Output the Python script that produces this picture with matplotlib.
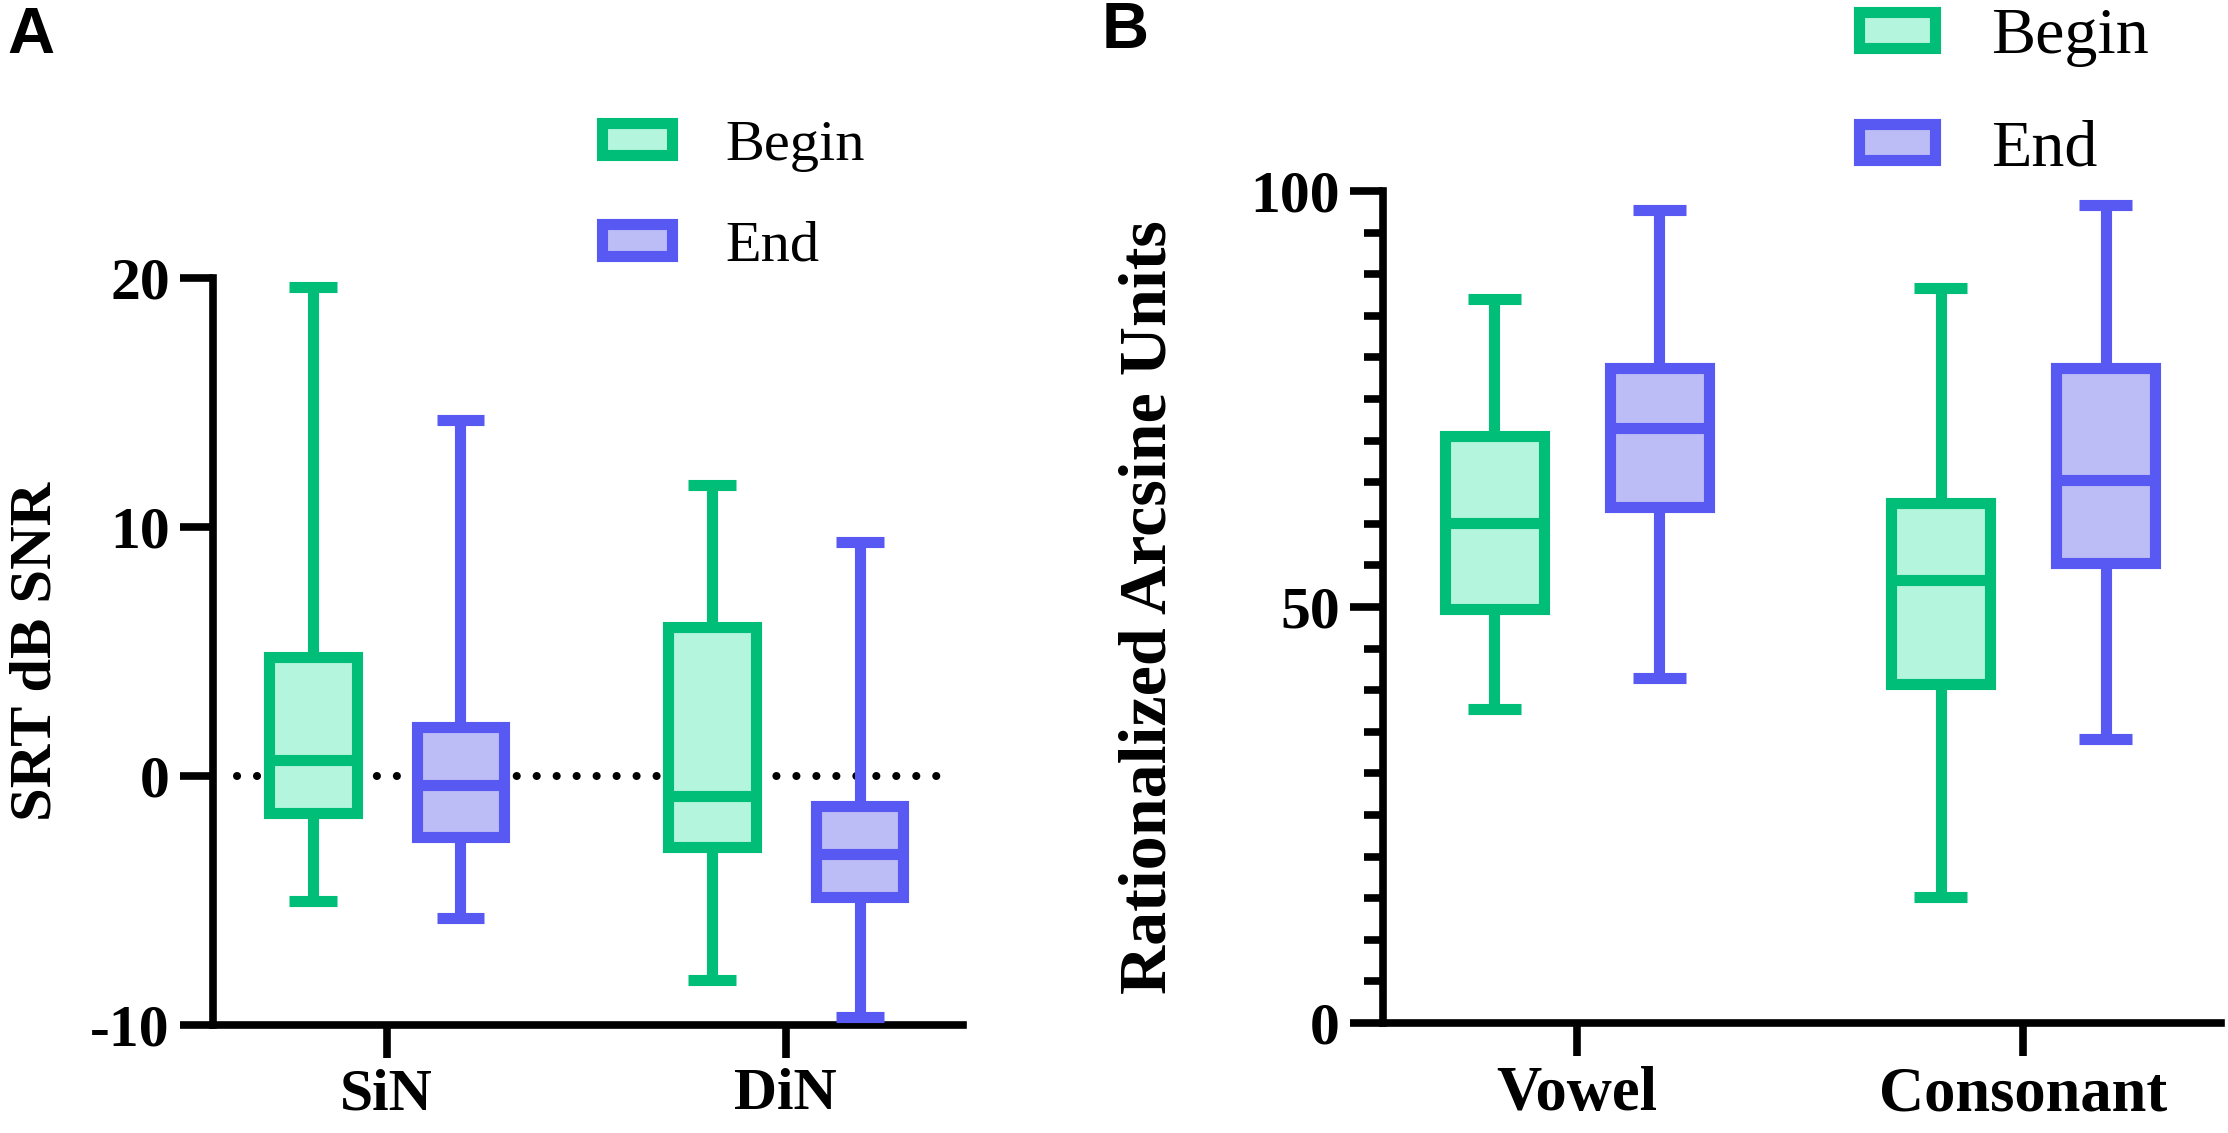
import matplotlib
matplotlib.use('Agg')
import matplotlib.pyplot as plt
from matplotlib.patches import Patch

plt.rcParams['font.family'] = ['Liberation Serif', 'DejaVu Serif']
plt.rcParams['font.weight'] = 'bold'
plt.rcParams['axes.unicode_minus'] = False

# colours
green = '#00BE78'
green_fill = '#B3F5DD'
blue = '#5858F2'
blue_fill = '#BCBCF7'

# panel A : SRT (dB SNR)
a_groups = ['SiN', 'DiN']
a_begin_min = [-5.0, -8.2]
a_begin_q1 = [-1.5, -2.86]
a_begin_med = [0.65, -0.8]
a_begin_q3 = [4.8, 6.0]
a_begin_max = [19.65, 11.7]
a_end_min = [-5.7, -9.68]
a_end_q1 = [-2.45, -4.85]
a_end_med = [-0.35, -3.12]
a_end_q3 = [1.95, -1.22]
a_end_max = [14.3, 9.4]

# panel B : RAU
b_groups = ['Vowel', 'Consonant']
b_begin_min = [37.8, 15.1]
b_begin_q1 = [49.8, 40.8]
b_begin_med = [60.1, 53.2]
b_begin_q3 = [70.6, 62.5]
b_begin_max = [87.0, 88.3]
b_end_min = [41.5, 34.1]
b_end_q1 = [62.0, 55.3]
b_end_med = [71.5, 65.3]
b_end_q3 = [78.7, 78.7]
b_end_max = [97.7, 98.3]

legend_labels = ['Begin', 'End']

LW = 8
SPW = 5.5


def draw_boxes(ax, pos, mins, q1s, meds, q3s, maxs, edge, fill):
    stats = []
    for lo, q1, md, q3, hi in zip(mins, q1s, meds, q3s, maxs):
        stats.append(dict(whislo=lo, q1=q1, med=md, q3=q3, whishi=hi))
    ax.bxp(stats, positions=pos, widths=0.22, capwidths=0.12,
           patch_artist=True, showfliers=False, zorder=3,
           boxprops=dict(facecolor=fill, edgecolor=edge, linewidth=LW,
                         joinstyle='miter'),
           medianprops=dict(color=edge, linewidth=LW, solid_capstyle='butt'),
           whiskerprops=dict(color=edge, linewidth=LW, solid_capstyle='butt'),
           capprops=dict(color=edge, linewidth=LW, solid_capstyle='butt'))


def style_axes(ax, xsize, ysize):
    ax.spines['top'].set_visible(False)
    ax.spines['right'].set_visible(False)
    ax.spines['left'].set_linewidth(SPW)
    ax.spines['bottom'].set_linewidth(SPW)
    ax.tick_params(which='major', direction='out', length=24, width=SPW)
    ax.tick_params(which='minor', direction='out', length=13.5, width=SPW)
    ax.tick_params(axis='y', labelsize=ysize, pad=7)
    ax.tick_params(axis='x', labelsize=xsize, pad=7)
    ax.set_xlim(-0.435, 1.444)


def add_legend(ax, fs, anchor, hl, spacing, tpad):
    handles = [Patch(facecolor=green_fill, edgecolor=green, linewidth=LW),
               Patch(facecolor=blue_fill, edgecolor=blue, linewidth=LW)]
    leg = ax.legend(handles, legend_labels, loc='upper left',
                    bbox_to_anchor=anchor, bbox_transform=fig.transFigure,
                    frameon=False, borderpad=0, borderaxespad=0,
                    handlelength=hl, handleheight=0.47,
                    handletextpad=tpad, labelspacing=spacing,
                    prop=dict(family='Liberation Serif', weight='normal',
                              size=fs))
    return leg


fig = plt.figure(figsize=(22.28, 11.33), dpi=100)

# ---- panel A
axA = fig.add_axes([0.0956, 0.0953, 0.3366, 0.6593])
xa = list(range(len(a_groups)))
axA.axhline(0, xmin=0.032, xmax=0.987, color='black', lw=5.8,
            linestyle=(0, (0.01, 2.47)), dash_capstyle='round', zorder=1)
draw_boxes(axA, [x - 0.185 for x in xa], a_begin_min, a_begin_q1,
           a_begin_med, a_begin_q3, a_begin_max, green, green_fill)
draw_boxes(axA, [x + 0.185 for x in xa], a_end_min, a_end_q1,
           a_end_med, a_end_q3, a_end_max, blue, blue_fill)
style_axes(axA, 43, 43)
axA.set_ylim(-10, 20)
axA.set_yticks([-10, 0, 10, 20])
axA.set_xticks(xa)
axA.set_xticklabels(a_groups)
axA.set_ylabel('SRT dB SNR', fontsize=43.5, fontweight='bold')
axA.yaxis.set_label_coords(-0.199, 0.5)
add_legend(axA, 42, (0.2704, 0.894), 1.2, 0.83, 0.9)

# ---- panel B
axB = fig.add_axes([0.6207, 0.0971, 0.3762, 0.7343])
xb = list(range(len(b_groups)))
draw_boxes(axB, [x - 0.185 for x in xb], b_begin_min, b_begin_q1,
           b_begin_med, b_begin_q3, b_begin_max, green, green_fill)
draw_boxes(axB, [x + 0.185 for x in xb], b_end_min, b_end_q1,
           b_end_med, b_end_q3, b_end_max, blue, blue_fill)
style_axes(axB, 45, 43)
axB.set_ylim(0, 100)
axB.set_yticks([0, 50, 100])
axB.set_yticks(range(0, 101, 5), minor=True)
axB.tick_params(axis='x', which='minor', bottom=False)
axB.set_xticks(xb)
axB.set_xticklabels(b_groups)
axB.set_ylabel('Rationalized Arcsine Units', fontsize=49, fontweight='bold')
axB.yaxis.set_label_coords(-0.243, 0.5)
add_legend(axB, 47.5, (0.8345, 0.993), 1.15, 0.8, 0.85)

fig.text(7 / 2228, 1 - 6 / 1133, 'A', family='Liberation Sans',
         weight='bold', size=47, va='top', ha='left')
fig.text(1102 / 2228, 0.999, 'B', family='Liberation Sans',
         weight='bold', size=47, va='top', ha='left')

fig.savefig('out.png', dpi=100)
